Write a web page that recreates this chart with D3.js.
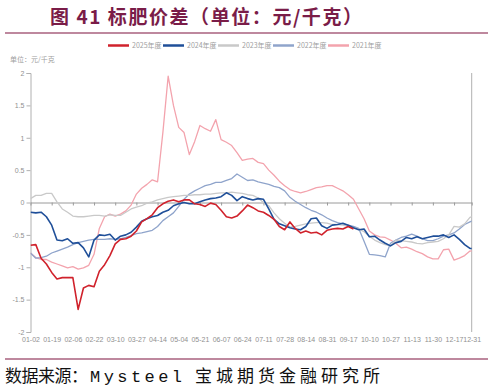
<!DOCTYPE html>
<html>
<head>
<meta charset="utf-8">
<script src="https://cdn.jsdelivr.net/npm/d3@7"></script>
<style>
  body { margin: 0; background: #fff; }
  svg text { font-family: "Liberation Sans", Arial, sans-serif; }
</style>
</head>
<body>
<svg id="chart" width="493" height="392"></svg>
<script>
// x axis: trading-day index, one value every 3 days
const step = 3
const tickDays = [0, 12, 24, 36, 48, 60, 72, 84, 96, 108, 120, 132, 144, 156, 168, 180, 192, 204, 216, 228, 240, 250]
const tickLabels = ["01-02", "01-19", "02-06", "02-22", "03-10", "03-27", "04-14", "05-04", "05-21", "06-07", "06-24",
  "07-11", "07-28", "08-14", "08-31", "09-17", "10-10", "10-27", "11-13", "11-30", "12-17", "12-31"]
const yTicks = [-2, -1.5, -1, -0.5, 0, 0.5, 1, 1.5, 2]

const names = ["2025年度", "2024年度", "2023年度", "2022年度", "2021年度"]
const colors = ["#d0222c", "#1f4f99", "#c9c9c9", "#8fa4cb", "#f3a3ad"]

const v2025 = [-0.66, -0.65, -0.86, -0.95, -1.08, -1.18, -1.16, -1.16, -1.16, -1.65, -1.32, -1.28, -1.30, -1.06, -0.96, -0.82,
  -0.64, -0.57, -0.56, -0.52, -0.44, -0.30, -0.25, -0.19, -0.08, -0.02, 0.02, 0.04, 0.01, 0.04, 0.04, -0.02, -0.03, -0.06,
  -0.01, -0.03, -0.12, -0.22, -0.24, -0.21, -0.13, -0.04, -0.08, -0.13, -0.15, -0.20, -0.26, -0.37, -0.42, -0.30, -0.40,
  -0.47, -0.44, -0.47, -0.46, -0.50, -0.43, -0.41, -0.40, -0.41, -0.37, -0.41]
const v2024 = [-0.15, -0.16, -0.15, -0.22, -0.35, -0.58, -0.59, -0.56, -0.63, -0.62, -0.70, -0.84, -0.58, -0.50, -0.51, -0.49,
  -0.58, -0.52, -0.50, -0.46, -0.38, -0.29, -0.25, -0.22, -0.20, -0.15, -0.12, -0.05, -0.02, 0.00, -0.02, -0.02, 0.01, 0.04,
  0.06, 0.07, 0.09, 0.15, 0.11, 0.03, 0.09, 0.06, 0.04, 0.06, 0.05, -0.10, -0.26, -0.33, -0.36, -0.39, -0.41, -0.42, -0.37,
  -0.25, -0.24, -0.36, -0.40, -0.35, -0.34, -0.32, -0.35, -0.39, -0.42, -0.41, -0.53, -0.52, -0.58, -0.63, -0.67, -0.62,
  -0.60, -0.54, -0.56, -0.53, -0.56, -0.54, -0.52, -0.52, -0.50, -0.54, -0.50, -0.57, -0.65, -0.71, -0.71]
const v2023 = [0.06, 0.11, 0.11, 0.14, 0.14, 0.01, -0.10, -0.15, -0.21, -0.22, -0.22, -0.21, -0.20, -0.20, -0.21, -0.19,
  -0.20, -0.20, -0.15, -0.10, -0.07, -0.05, -0.01, 0.01, 0.04, 0.06, 0.08, 0.09, 0.10, 0.11, 0.11, 0.12, 0.12, 0.13, 0.13,
  0.14, 0.15, 0.15, 0.16, 0.15, 0.14, 0.12, 0.11, 0.07, 0.00, -0.05, -0.16, -0.25, -0.32, -0.38, -0.37, -0.35, -0.33, -0.32,
  -0.31, -0.31, -0.32, -0.34, -0.34, -0.35, -0.37, -0.39, -0.41, -0.45, -0.52, -0.58, -0.62, -0.65, -0.67, -0.58, -0.59,
  -0.60, -0.61, -0.63, -0.64, -0.62, -0.61, -0.60, -0.56, -0.50, -0.37, -0.38, -0.33, -0.23, -0.20]
const v2022 = [-0.78, -0.86, -0.85, -0.83, -0.78, -0.75, -0.72, -0.69, -0.65, -0.62, -0.60, -0.58, -0.57, -0.57, -0.57, -0.56,
  -0.57, -0.56, -0.54, -0.51, -0.48, -0.47, -0.45, -0.43, -0.37, -0.28, -0.22, -0.16, -0.06, 0.05, 0.13, 0.18, 0.22, 0.26,
  0.28, 0.31, 0.31, 0.34, 0.37, 0.44, 0.39, 0.34, 0.35, 0.32, 0.30, 0.28, 0.25, 0.23, 0.18, 0.08, 0.02, -0.03, -0.08, -0.12,
  -0.15, -0.19, -0.24, -0.28, -0.31, -0.33, -0.35, -0.37, -0.40, -0.60, -0.80, -0.81, -0.82, -0.84, -0.63, -0.58, -0.54,
  -0.52, -0.49, -0.52, -0.56, -0.59, -0.59, -0.56, -0.52, -0.50, -0.47, -0.41, -0.34, -0.30, -0.26]
const v2021 = [-0.78, -0.85, -0.88, -0.88, -0.92, -0.95, -0.98, -1.01, -0.99, -1.03, -1.01, -0.97, -0.80, -0.40, -0.22, -0.18,
  -0.21, -0.18, -0.13, -0.04, 0.13, 0.22, 0.28, 0.35, 0.32, 1.08, 1.95, 1.50, 1.16, 1.08, 0.74, 0.94, 1.19, 1.14, 1.10, 1.28,
  0.97, 0.93, 0.88, 0.77, 0.65, 0.67, 0.68, 0.62, 0.60, 0.50, 0.42, 0.33, 0.26, 0.20, 0.17, 0.15, 0.17, 0.20, 0.23, 0.24,
  0.26, 0.26, 0.22, 0.18, 0.12, 0.05, -0.10, -0.25, -0.44, -0.50, -0.53, -0.54, -0.58, -0.63, -0.70, -0.69, -0.72, -0.76,
  -0.79, -0.84, -0.87, -0.87, -0.73, -0.72, -0.89, -0.86, -0.82, -0.75, -0.74]

const series = [v2025, v2024, v2023, v2022, v2021]

const margin = {top: 73, right: 21.3, bottom: 60, left: 30.5}
const W = 493, H = 392
const svg = d3.select("#chart")

const x = d3.scaleLinear().domain([0, 250]).range([margin.left, W - margin.right])
const y = d3.scaleLinear().domain([-2, 2]).range([H - margin.bottom, margin.top])

// title and rules
svg.append("text")
  .attr("x", 50).attr("y", 24)
  .attr("textLength", 312)
  .style("font-family", '"Noto Sans CJK SC", sans-serif')
  .style("font-weight", "bold")
  .style("font-size", "19px")
  .attr("fill", "#7a1c48")
  .text("图 41 标肥价差（单位：元/千克）")

svg.append("line").attr("x1", 5).attr("x2", 488).attr("y1", 33).attr("y2", 33)
  .attr("stroke", "#a8607e").attr("stroke-width", 1.5)
svg.append("line").attr("x1", 5).attr("x2", 488).attr("y1", 359).attr("y2", 359)
  .attr("stroke", "#a8607e").attr("stroke-width", 1.5)

// legend
const legend = svg.append("g")
names.forEach((n, i) => {
  const lx = 108 + i * 55
  legend.append("line").attr("x1", lx).attr("x2", lx + 21).attr("y1", 45.5).attr("y2", 45.5)
    .attr("stroke", colors[i]).attr("stroke-width", 2.5)
  legend.append("text").attr("x", lx + 24).attr("y", 48)
    .style("font-size", "7px").attr("fill", "#a0a0a0")
    .style("font-family", '"Noto Sans CJK SC", sans-serif')
    .text(n)
})

svg.append("text").attr("x", 10).attr("y", 62)
  .style("font-size", "7px").attr("fill", "#a0a0a0")
  .style("font-family", '"Noto Sans CJK SC", sans-serif')
  .text("单位：元/千克")

// y axis
const yAxis = svg.append("g")
  .attr("transform", "translate(" + margin.left + ",0)")
  .call(d3.axisLeft(y).tickValues(yTicks).tickSize(4).tickPadding(2).tickFormat(d => String(d)))
yAxis.selectAll("path, line").attr("stroke", "#b0b0b0")
yAxis.selectAll("text").style("font-size", "7px").attr("fill", "#909090")

// right border
svg.append("line").attr("x1", x(250)).attr("x2", x(250)).attr("y1", y(2)).attr("y2", y(-2))
  .attr("stroke", "#b0b0b0")

// zero line with ticks
const zeroAxis = svg.append("g")
  .attr("transform", "translate(0," + y(0) + ")")
  .call(d3.axisBottom(x).tickValues(tickDays).tickSize(3).tickSizeOuter(0).tickFormat(""))
zeroAxis.selectAll("path, line").attr("stroke", "#9a9a9a")

// date labels under the plot
const xAxis = svg.append("g")
  .attr("transform", "translate(0," + y(-2) + ")")
  .call(d3.axisBottom(x).tickValues(tickDays).tickSize(0).tickPadding(5).tickFormat((d, i) => tickLabels[i]))
xAxis.select(".domain").remove()
xAxis.selectAll("text").style("font-size", "7px").attr("fill", "#909090")

// lines
svg.append("clipPath").attr("id", "plotClip")
  .append("rect").attr("x", x(0)).attr("y", 0).attr("width", x(250) - x(0)).attr("height", H)

const line = d3.line()
  .x((d, i) => x(i * step))
  .y(d => y(d))

const plot = svg.append("g").attr("clip-path", "url(#plotClip)")
for (let i = series.length - 1; i >= 0; i--) {
  plot.append("path")
    .datum(series[i])
    .attr("fill", "none")
    .attr("stroke", colors[i])
    .attr("stroke-width", i < 2 ? 1.6 : 1.3)
    .attr("stroke-linejoin", "round")
    .attr("d", line)
}

// source
const src = svg.append("g").style("font-size", "17px").attr("fill", "#111")
src.append("text").attr("x", 5).attr("y", 382)
  .style("font-family", '"Noto Sans CJK SC", sans-serif')
  .attr("textLength", 83)
  .text("数据来源：")
src.append("text").attr("x", 90).attr("y", 382)
  .style("font-family", '"Liberation Mono", monospace')
  .attr("textLength", 92)
  .text("Mysteel")
src.append("text").attr("x", 195).attr("y", 382)
  .style("font-family", '"Noto Sans CJK SC", sans-serif')
  .attr("textLength", 185)
  .text("宝城期货金融研究所")
</script>
</body>
</html>
